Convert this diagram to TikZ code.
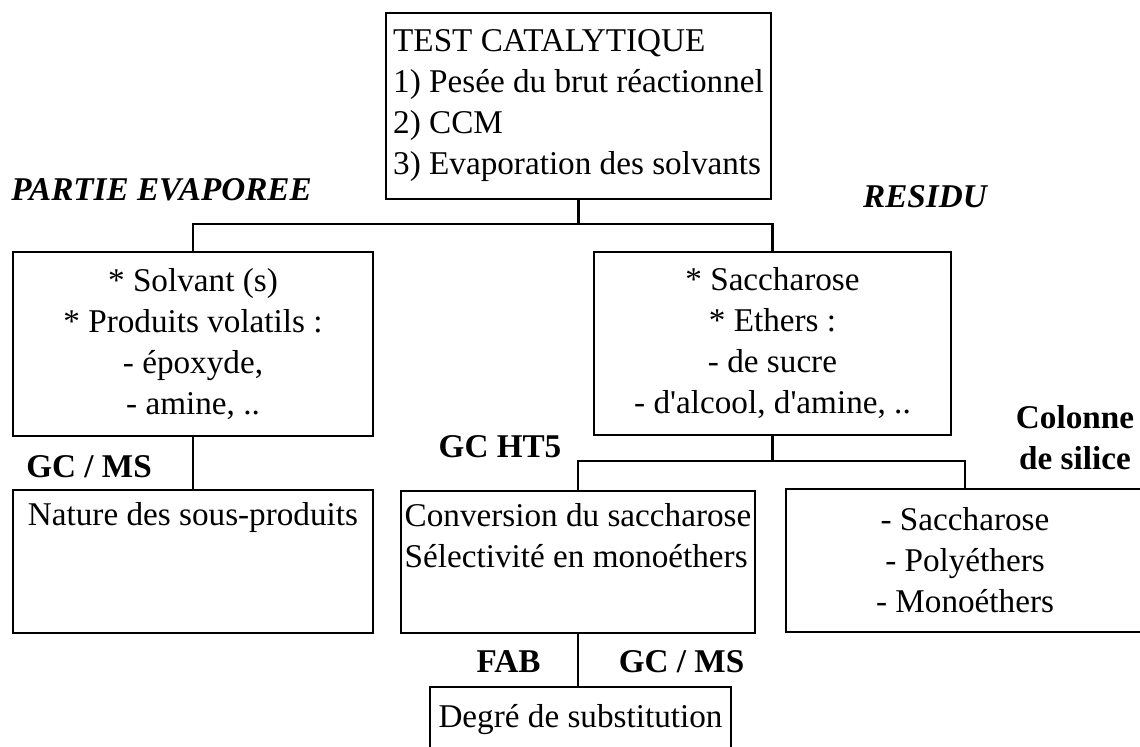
\documentclass[tikz,border=0pt]{standalone}
\usepackage{fontspec}
\setmainfont{Liberation Serif}
\newcommand{\chartfont}{\fontsize{16.6}{20.5}\selectfont}

\begin{document}
\begin{tikzpicture}[x=0.5pt, y=-0.5pt, font=\chartfont,
    box/.style={draw, line width=1.1pt, inner sep=0pt},
    method/.style={font=\chartfont\bfseries, inner sep=0pt},
    part/.style={font=\chartfont\bfseries\itshape, inner sep=0pt},
    link/.style={line width=1.1pt}]

\useasboundingbox (0,0) rectangle (1140,746);

% boxes
\node[box, align=left, minimum width=192.5pt, minimum height=93pt] (test) at (578.5,106)
    {TEST CATALYTIQUE\\1) Pesée du brut réactionnel\\2) CCM\\3) Evaporation des solvants};
\node[box, align=center, minimum width=180pt, minimum height=92pt] (evap) at (193,344)
    {* Solvant (s)\\* Produits volatils :\\- époxyde,\\- amine, ..};
\node[box, align=center, minimum width=178.5pt, minimum height=91.5pt] (resid) at (772.5,343.5)
    {* Saccharose\\* Ethers :\\- de sucre\\- d\textquotesingle alcool, d\textquotesingle amine, ..};
\node[box, align=left, minimum width=180pt, minimum height=71.5pt] (nature) at (193,561.5)
    {Nature des sous-produits\\\strut\\\strut};
\node[box, align=left, minimum width=177pt, minimum height=71pt] (conv) at (578,562)
    {Conversion du saccharose\\Sélectivité en monoéthers\\\strut};
\node[box, align=center, minimum width=179pt, minimum height=71.5pt] (silice) at (965,560.5)
    {- Saccharose\\- Polyéthers\\- Monoéthers};
\node[box, minimum width=150.5pt, minimum height=33pt] (degre) at (580.5,720)
    {Degré de substitution};

% connectors
\draw[link] (test.south) -- (test.south |- 0,224);
\draw[link] (evap.north) |- (resid.north |- 0,224) -- (resid.north);
\draw[link] (evap.south) -- (nature.north);
\draw[link] (resid.south) -- (resid.south |- 0,461);
\draw[link] (conv.north) |- (silice.north |- 0,461) -- (silice.north);
\draw[link] (conv.south) -- (conv.south |- degre.north);

% labels
\node[part] (partie) at (161.5,190) {PARTIE EVAPOREE};
\node[part] (residu) at (925,197) {RESIDU};
\node[method] (gcms) at (89,467) {GC / MS};
\node[method] (gcht) at (500,447) {GC HT5};
\node[method, align=center] (colonne) at (1075,438) {Colonne\\de silice};
\node[method] (fab) at (508.5,662) {FAB};
\node[method] (gcmsb) at (681.5,662) {GC / MS};

\end{tikzpicture}
\end{document}
